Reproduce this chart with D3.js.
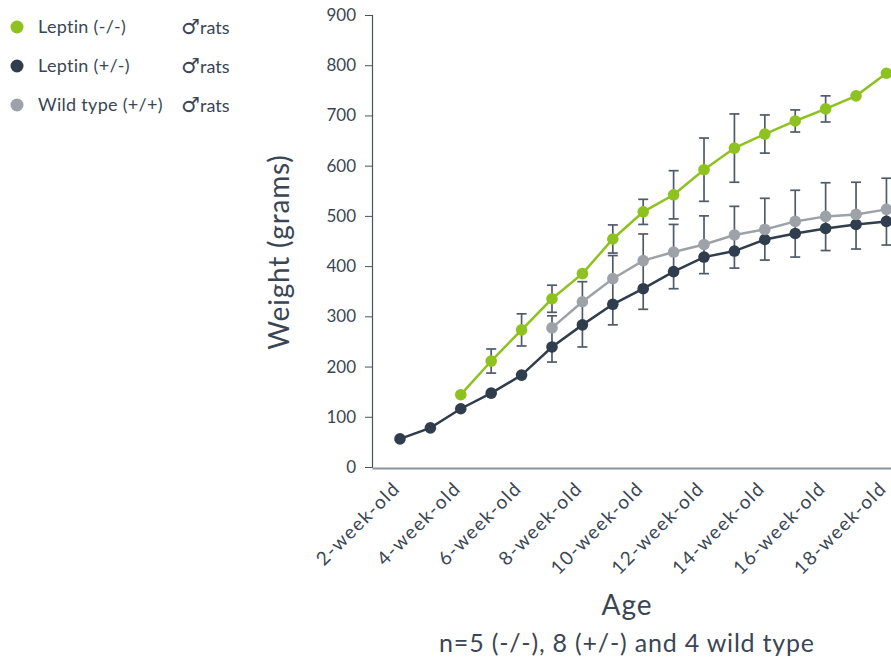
<!DOCTYPE html>
<html>
<head>
<meta charset="utf-8">
<script src="https://cdn.jsdelivr.net/npm/d3@7"></script>
<style>
  body { margin: 0; background: #fff; }
  text { font-family: Lato, "Noto Sans", sans-serif; fill: #3a4655; }
</style>
</head>
<body>
<div class="chart"></div>
<script>
// 週齡 2 ~ 18
const weeks = [2, 3, 4, 5, 6, 7, 8, 9, 10, 11, 12, 13, 14, 15, 16, 17, 18]
const tickWeeks = [2, 4, 6, 8, 10, 12, 14, 16, 18]
const yTicks = [0, 100, 200, 300, 400, 500, 600, 700, 800, 900]

// Leptin (-/-)
const koWeight = [null, null, 144, 211, 273, 335, 385, 454, 508, 542, 592, 635, 663, 689, 713, 739, 784]
const koErr = [null, null, null, 24, 32, 27, null, 28, 25, 48, 63, 68, 38, 22, 26, null, null]
// Leptin (+/-)
const hetWeight = [56, 78, 116, 147, 183, 239, 283, 324, 355, 389, 418, 430, 453, 465, 475, 483, 489]
// Wild type (+/+)
const wildWeight = [null, null, null, null, null, 277, 329, 375, 411, 428, 443, 462, 473, 489, 499, 503, 513]
// (+/-) 和 wild type 共用的誤差線 (下緣 / 上緣)
const pairLow = [null, null, null, null, null, 209, 239, 283, 314, 355, 385, 396, 412, 418, 431, 434, 442]
const pairHigh = [null, null, null, null, null, 301, 369, 421, 464, 483, 500, 519, 535, 551, 566, 567, 575]

const legendNames = ["Leptin (-/-)", "Leptin (+/-)", "Wild type (+/+)"]
const colors = ["#8dc21f", "#2f3d4c", "#9da2a9"]

function drawChart() {
  const svgWidth = 891
  const svgHeight = 662
  const svg = d3.select('.chart')
    .append('svg')
    .attr('width', svgWidth)
    .attr('height', svgHeight)

  // 比例尺
  const xScale = d3.scaleLinear()
    .domain([1.08, 18.15])
    .range([372, 891])
  const yScale = d3.scaleLinear()
    .domain([0, 900])
    .range([467, 15])

  // Y 軸
  const yAxis = d3.axisLeft(yScale)
    .tickValues(yTicks)
    .tickSize(7)
    .tickPadding(9)
  const gy = svg.append('g')
    .attr('transform', `translate(${xScale.range()[0]}, 0)`)
    .call(yAxis)
  gy.select('.domain').attr('stroke', '#46525f').attr('stroke-width', 1.2)
  gy.selectAll('.tick line').attr('stroke', '#46525f')
  gy.selectAll('.tick text')
    .style('font-size', '17px')
    .style('font-family', 'Lato, sans-serif')
    .attr('fill', '#3a4655')

  // X 軸
  const xAxis = d3.axisBottom(xScale)
    .tickValues(tickWeeks)
    .tickSize(0)
    .tickFormat(d => `${d}-week-old`)
  const gx = svg.append('g')
    .attr('transform', `translate(0, ${yScale(0) + 1})`)
    .call(xAxis)
  gx.select('.domain').attr('stroke', '#8a949e').attr('stroke-width', 2)
  gx.selectAll('.tick text')
    .attr('text-anchor', 'end')
    .attr('x', 0)
    .attr('y', 0)
    .attr('dy', '0.35em')
    .attr('transform', 'translate(-4, 17) rotate(-45)')
    .style('font-size', '19px')
    .style('letter-spacing', '1.4px')
    .style('font-family', 'Lato, sans-serif')
    .attr('fill', '#3a4655')

  // 軸標題
  svg.append('text')
    .attr('text-anchor', 'middle')
    .attr('transform', `translate(289, 252) rotate(-90)`)
    .style('font-size', '28px')
    .style('letter-spacing', '0.8px')
    .text('Weight (grams)')

  svg.append('text')
    .attr('text-anchor', 'middle')
    .attr('x', 627)
    .attr('y', 615)
    .style('font-size', '28px')
    .style('letter-spacing', '1px')
    .text('Age')

  svg.append('text')
    .attr('text-anchor', 'middle')
    .attr('x', 627)
    .attr('y', 652)
    .style('font-size', '25px')
    .style('letter-spacing', '0.8px')
    .text('n=5 (-/-), 8 (+/-) and 4 wild type')

  const series = [koWeight, hetWeight, wildWeight]
  const line = d3.line()
    .defined(d => d[1] != null)
    .x(d => xScale(d[0]))
    .y(d => yScale(d[1]))

  // 線
  series.forEach((vals, i) => {
    svg.append('path')
      .datum(weeks.map((w, j) => [w, vals[j]]))
      .attr('fill', 'none')
      .attr('stroke', colors[i])
      .attr('stroke-width', 2.5)
      .attr('d', line)
  })

  // 誤差線
  const bars = []
  weeks.forEach((w, j) => {
    if (koErr[j] != null) bars.push({ w: w, lo: koWeight[j] - koErr[j], hi: koWeight[j] + koErr[j] })
    if (pairLow[j] != null) bars.push({ w: w, lo: pairLow[j], hi: pairHigh[j] })
  })
  const capW = 5
  const gBar = svg.append('g')
    .attr('stroke', '#505b68')
    .attr('stroke-width', 1.7)
  gBar.selectAll('line.v')
    .data(bars)
    .enter()
    .append('line')
    .attr('x1', d => xScale(d.w))
    .attr('x2', d => xScale(d.w))
    .attr('y1', d => yScale(d.lo))
    .attr('y2', d => yScale(d.hi))
  gBar.selectAll('line.lo')
    .data(bars)
    .enter()
    .append('line')
    .attr('x1', d => xScale(d.w) - capW)
    .attr('x2', d => xScale(d.w) + capW)
    .attr('y1', d => yScale(d.lo))
    .attr('y2', d => yScale(d.lo))
  gBar.selectAll('line.hi')
    .data(bars)
    .enter()
    .append('line')
    .attr('x1', d => xScale(d.w) - capW)
    .attr('x2', d => xScale(d.w) + capW)
    .attr('y1', d => yScale(d.hi))
    .attr('y2', d => yScale(d.hi))

  // 點點
  series.forEach((vals, i) => {
    svg.append('g')
      .selectAll('circle')
      .data(weeks.map((w, j) => [w, vals[j]]).filter(d => d[1] != null))
      .enter()
      .append('circle')
      .attr('cx', d => xScale(d[0]))
      .attr('cy', d => yScale(d[1]))
      .attr('r', 5.8)
      .style('fill', colors[i])
  })

  // 圖例
  const legend = svg.append('g')
  legendNames.forEach((name, i) => {
    const y = 27 + i * 39
    legend.append('circle')
      .attr('cx', 17)
      .attr('cy', y)
      .attr('r', 6.5)
      .style('fill', colors[i])
    legend.append('text')
      .attr('x', 38)
      .attr('y', y + 6)
      .style('font-size', '18px')
      .style('letter-spacing', '0.3px')
      .text(name)
    const sym = legend.append('text')
      .attr('x', 181)
      .attr('y', y + 7)
    sym.append('tspan')
      .style('font-family', '"DejaVu Sans"')
      .style('font-size', '21px')
      .text('♂')
    sym.append('tspan')
      .attr('x', 200)
      .style('font-size', '18px')
      .text('rats')
  })
}

drawChart()
</script>
</body>
</html>
